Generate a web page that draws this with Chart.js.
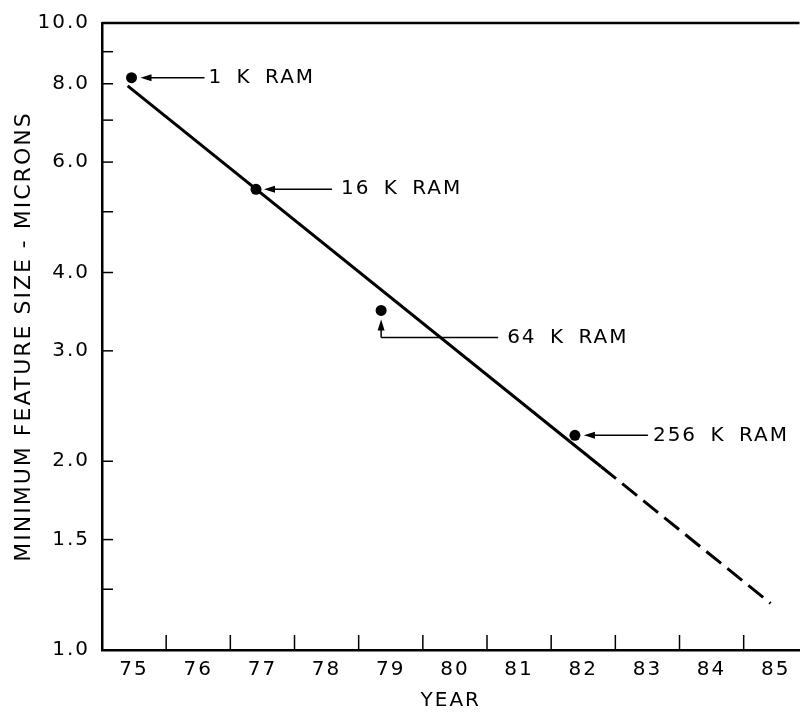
<!DOCTYPE html>
<html>
<head>
<meta charset="utf-8">
<script src="https://cdn.jsdelivr.net/npm/chart.js@4.4.1/dist/chart.umd.min.js"></script>
<style>
  html, body { margin: 0; padding: 0; background: #fff; }
</style>
</head>
<body>
<canvas id="chart" width="805" height="713"></canvas>
<script>
// RAM generations and their minimum feature size (microns)
const ramLabels = ['1 K RAM', '16 K RAM', '64 K RAM', '256 K RAM'];
const ramYears = [74.96, 76.90, 78.85, 81.87];
const ramSizes = [8.18, 5.43, 3.48, 2.20];

// trend line: solid up to the second point, dashed projection after
const trendYears = [74.90, 82.28, 84.92];
const trendSizes = [7.94, 1.96, 1.187];

// axis ticks
const xLabels = [75, 76, 77, 78, 79, 80, 81, 82, 83, 84, 85];
const xMinorTicks = [75.5, 76.5, 77.5, 78.5, 79.5, 80.5, 81.5, 82.5, 83.5, 84.5];
const yTickValues = [1, 1.5, 2, 3, 4, 6, 8, 10];
const yMinorTicks = [1.25, 5, 7, 9];

// how each callout is drawn (pixel offsets from its dot)
const leaders = [
    { dir: 'left', tip: 9, end: 73, gap: 4 },
    { dir: 'left', tip: 8, end: 76, gap: 9 },
    { dir: 'up', tip: 9, corner: 27, end: 117, gap: 9 },
    { dir: 'left', tip: 9, end: 73, gap: 5 }
];

const FONT = '"DejaVu Sans", "Liberation Sans", sans-serif';

function arrowHead(ctx, x, y, dir) {
    ctx.beginPath();
    ctx.moveTo(x, y);
    if (dir == 'left') {
        ctx.lineTo(x + 11, y - 3.5);
        ctx.lineTo(x + 11, y + 3.5);
    } else {
        ctx.lineTo(x - 3.5, y + 11);
        ctx.lineTo(x + 3.5, y + 11);
    }
    ctx.closePath();
    ctx.fill();
}

function line(ctx, x1, y1, x2, y2) {
    ctx.beginPath();
    ctx.moveTo(x1, y1);
    ctx.lineTo(x2, y2);
    ctx.stroke();
}

//Inward tick marks, top frame line and the RAM callouts
const marksPlugin = {
    id: 'marks',
    beforeLayout(chart) { chart.ctx.letterSpacing = '2px'; },
    beforeDraw(chart) { chart.ctx.letterSpacing = '2px'; },
    afterDraw(chart) {
        const ctx = chart.ctx;
        const a = chart.chartArea;
        const x = chart.scales.x;
        const y = chart.scales.y;
        ctx.save();
        ctx.strokeStyle = '#000';
        ctx.fillStyle = '#000';

        ctx.lineWidth = 2.5;
        line(ctx, a.left, a.top, a.right, a.top);

        ctx.lineWidth = 1.5;
        xMinorTicks.forEach(v => {
            const px = x.getPixelForValue(v);
            line(ctx, px, a.bottom, px, a.bottom - 15);
        });
        yTickValues.concat(yMinorTicks).forEach(v => {
            if (v == 1 || v == 10) return;
            const py = y.getPixelForValue(v);
            line(ctx, a.left, py, a.left + 11, py);
        });

        ctx.font = '20px ' + FONT;
        ctx.letterSpacing = '2px';
        ctx.wordSpacing = '5px';
        ctx.textBaseline = 'middle';
        ctx.textAlign = 'left';
        ramLabels.forEach((label, i) => {
            const l = leaders[i];
            const px = x.getPixelForValue(ramYears[i]);
            const py = y.getPixelForValue(ramSizes[i]);
            let ty = py;
            if (l.dir == 'left') {
                arrowHead(ctx, px + l.tip, py, 'left');
                line(ctx, px + l.tip + 8, py, px + l.end, py);
            } else {
                ty = py + l.corner;
                arrowHead(ctx, px, py + l.tip, 'up');
                line(ctx, px, py + l.tip + 8, px, ty);
                line(ctx, px, ty, px + l.end, ty);
            }
            ctx.fillText(label, px + l.end + l.gap, ty);
        });
        ctx.restore();
    }
};

let ctx = document.getElementById('chart').getContext('2d');

window.chart = new Chart(ctx, {
    type: 'scatter',
    data: {
        datasets: [{
            label: 'trend',
            data: trendYears.map((v, i) => ({ x: v, y: trendSizes[i] })),
            showLine: true,
            borderColor: '#000',
            borderWidth: 3,
            pointRadius: 0,
            segment: {
                borderDash: c => c.p0DataIndex >= 1 ? [19, 8] : undefined
            }
        }, {
            label: 'RAM',
            data: ramYears.map((v, i) => ({ x: v, y: ramSizes[i] })),
            backgroundColor: '#000',
            borderWidth: 0,
            pointRadius: 5.5
        }]
    },
    options: {
        responsive: false,
        animation: false,
        layout: { padding: { top: 23, left: 0, right: 0, bottom: 0 } },
        plugins: {
            legend: { display: false },
            tooltip: { enabled: false }
        },
        scales: {
            x: {
                type: 'linear',
                min: 74.5,
                max: 85.37,
                grid: { display: false },
                border: { display: true, color: '#000', width: 2.5 },
                afterBuildTicks: axis => { axis.ticks = xLabels.map(v => ({ value: v })); },
                afterFit: axis => { axis.height = 63; },
                ticks: {
                    autoSkip: false,
                    maxRotation: 0,
                    padding: 0,
                    color: '#000',
                    font: { family: FONT, size: 20 },
                    callback: v => String(v)
                },
                title: {
                    display: true,
                    text: 'YEAR',
                    color: '#000',
                    font: { family: FONT, size: 20 },
                    padding: { top: 0, bottom: 0 }
                }
            },
            y: {
                type: 'logarithmic',
                min: 1,
                max: 10,
                grid: { display: false },
                border: { display: true, color: '#000', width: 2.5 },
                afterBuildTicks: axis => { axis.ticks = yTickValues.map(v => ({ value: v })); },
                afterFit: axis => { axis.width = 102; },
                ticks: {
                    padding: 4,
                    color: '#000',
                    font: { family: FONT, size: 20 },
                    callback: v => Number(v).toFixed(1)
                },
                title: {
                    display: true,
                    text: 'MINIMUM FEATURE SIZE - MICRONS',
                    color: '#000',
                    font: { family: FONT, size: 22 },
                    padding: { top: 11, bottom: 0 }
                }
            }
        }
    },
    plugins: [marksPlugin]
});
</script>
</body>
</html>
